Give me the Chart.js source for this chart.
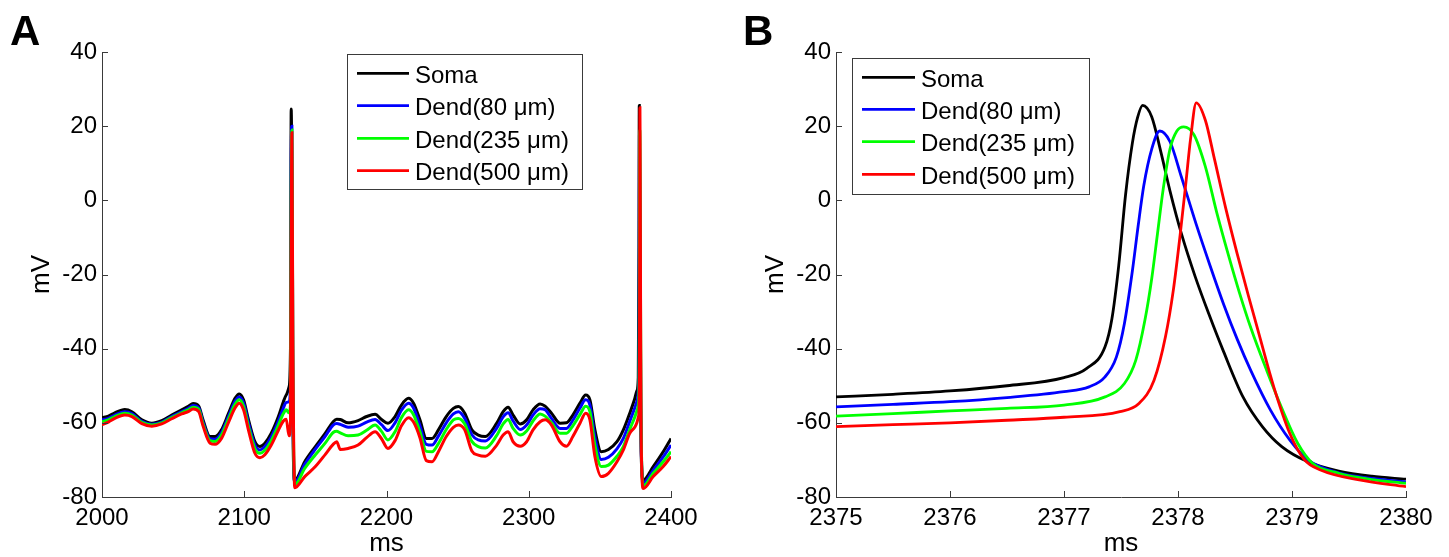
<!DOCTYPE html>
<html><head><meta charset="utf-8">
<script src="https://cdn.jsdelivr.net/npm/chart.js@4.4.1/dist/chart.umd.min.js"></script>
<style>
html,body{margin:0;padding:0;background:#fff;}
#wrap{position:relative;width:1449px;height:557px;overflow:hidden;background:#fff;}
#ca{position:absolute;left:0;top:0;}
#cb{position:absolute;left:720px;top:0;}
</style></head><body>
<div id="wrap"><canvas id="ca" width="720" height="557"></canvas><canvas id="cb" width="729" height="557"></canvas></div>
<script>
// ---------- data ----------
const seriesNames = ['Soma', 'Dend(80 \u03bcm)', 'Dend(235 \u03bcm)', 'Dend(500 \u03bcm)'];
const seriesColors = ['#000000', '#0000ff', '#00ff00', '#ff0000'];
const yTicks = [-80, -60, -40, -20, 0, 20, 40];
const aXTicks = [2000, 2100, 2200, 2300, 2400];
const bXTicks = [2375, 2376, 2377, 2378, 2379, 2380];

// Panel A (ms)
const aTime = [2000, 2004.5, 2009, 2016, 2021, 2028, 2035, 2042, 2049, 2056,
  2061, 2064, 2068, 2071, 2076, 2079.5, 2084, 2089, 2093.5, 2096.5,
  2099.5, 2103, 2107.5, 2111, 2114.5, 2119, 2124, 2127.5, 2129.5, 2131.5,
  2132.5, 2133, 2133.5, 2134.2, 2135.5, 2142.5, 2150, 2157, 2162.5, 2165,
  2167.5, 2173, 2180, 2186, 2192, 2196.5, 2201, 2206, 2210.5, 2215.5,
  2219, 2223.5, 2228, 2232, 2236.5, 2242, 2247, 2250.5, 2255, 2260,
  2264.5, 2269.5, 2277.5, 2282, 2285.5, 2289, 2294, 2298.5, 2303, 2308,
  2311.5, 2316, 2322, 2326.5, 2331, 2336, 2340, 2343, 2346.5, 2351,
  2356, 2362, 2366.5, 2371, 2374.5, 2376, 2377, 2377.5, 2377.7, 2377.85,
  2378, 2378.15, 2378.3, 2378.6, 2379, 2380.5, 2387.5, 2394.5, 2400];
const aSoma = [-58.6, -58.2, -57.3, -56.4, -57.0, -59.2, -60.1, -59.4, -57.9, -56.5,
  -55.5, -54.8, -55.5, -59.2, -63.7, -63.7, -61.9, -57.4, -53.4, -52.2,
  -53.8, -59.2, -65.1, -66.4, -65.5, -62.8, -58.3, -54.3, -52.5, -50.3,
  -40, 24.6, 5, -60, -75.5, -70.5, -66.4, -62.8, -59.7, -59.0,
  -59.1, -60.0, -59.4, -58.3, -57.7, -59.1, -60.1, -58.3, -55.2, -53.4,
  -54.7, -59.2, -64.2, -64.2, -61.9, -58.3, -56.1, -55.6, -57.4, -61.9,
  -63.3, -63.7, -60.1, -57.0, -55.8, -57.9, -60.3, -59.2, -56.5, -54.9,
  -55.5, -57.4, -60.1, -60.0, -57.9, -54.7, -52.5, -53.8, -61.9, -67.8,
  -67.2, -65.1, -61.9, -57.4, -53.5, -51.4, -47.8, -12, 25.6, 13,
  -5.5, -20.5, -33, -54.5, -67.9, -75.4, -71.8, -67.8, -64.2];
const aDend80 = [-59.2, -58.8, -57.9, -57.0, -57.5, -59.6, -60.4, -59.8, -58.3, -57.0,
  -56.0, -55.3, -56.0, -59.8, -64.3, -64.4, -62.6, -58.2, -54.2, -53.0,
  -54.6, -60.0, -66.0, -67.3, -66.4, -63.8, -59.5, -56.0, -54.5, -54.3,
  -50, 10, 20, -50, -76.0, -71.2, -67.1, -63.6, -60.6, -60.2,
  -60.4, -61.2, -60.9, -59.8, -59.1, -60.5, -62.1, -60.0, -56.6, -54.7,
  -56.0, -60.8, -65.8, -66.0, -63.6, -60.0, -57.6, -57.0, -58.8, -63.2,
  -64.6, -64.9, -61.4, -58.4, -57.3, -59.5, -61.8, -60.6, -57.9, -56.2,
  -56.5, -58.8, -61.5, -61.5, -59.3, -56.0, -53.8, -55.2, -63.8, -69.9,
  -69.3, -67.0, -64.2, -59.6, -56.0, -54.3, -51.6, -37, 0, 18.5,
  9, -5, -19.5, -42.5, -65, -76.2, -72.8, -69.2, -66.0];
const aDend235 = [-59.7, -59.2, -58.3, -57.4, -57.9, -59.9, -60.6, -60.0, -58.6, -57.3,
  -56.4, -55.8, -56.4, -60.3, -64.8, -65.0, -63.3, -58.9, -55.0, -53.8,
  -55.5, -61.0, -67.0, -68.2, -67.4, -64.8, -60.6, -57.5, -56.5, -57.3,
  -55, 0, 19, -45, -76.7, -72.3, -68.6, -65.4, -62.6, -62.3,
  -62.7, -63.5, -63.3, -62.0, -60.6, -62.3, -64.6, -62.4, -58.6, -56.5,
  -57.8, -62.4, -67.7, -67.8, -65.6, -61.8, -59.2, -58.8, -60.3, -65.0,
  -66.4, -66.8, -63.4, -60.3, -59.1, -61.5, -63.3, -62.2, -59.5, -57.6,
  -58.2, -60.0, -62.8, -62.8, -60.8, -57.8, -55.5, -57.0, -66.0, -71.8,
  -71.4, -69.0, -66.4, -61.8, -58.5, -56.8, -55.2, -50, -33, -1,
  19, 17.5, 1.6, -30, -62, -77.0, -73.6, -70.5, -67.8];
const aDend500 = [-60.5, -59.8, -58.8, -57.9, -58.3, -60.2, -60.9, -60.3, -58.9, -57.6,
  -56.9, -56.3, -57.0, -60.8, -65.5, -65.8, -64.2, -59.8, -56.0, -54.7,
  -56.5, -62.0, -68.2, -69.4, -68.6, -66.0, -62.0, -59.5, -59.0, -63.5,
  -60, -10, 18.2, -40, -77.5, -74.5, -71.8, -68.5, -65.8, -65.1,
  -67.2, -66.9, -66.0, -64.0, -62.4, -64.3, -66.9, -64.8, -60.8, -58.6,
  -59.8, -64.0, -70.2, -70.5, -67.8, -63.7, -61.2, -60.6, -61.9, -67.6,
  -68.7, -69.0, -66.0, -63.3, -62.4, -65.1, -66.3, -65.1, -61.9, -59.7,
  -59.2, -60.6, -65.1, -66.3, -63.7, -60.1, -57.4, -59.2, -69.1, -74.5,
  -73.6, -70.5, -67.3, -62.8, -61.2, -60.0, -58.5, -57, -53, -41.5,
  -15, 25, 13.7, -26.6, -63.5, -77.7, -74.5, -71.8, -69.1];

// Panel B (ms, mV)
const bSomaT = [2375, 2375.5, 2376, 2376.5, 2377, 2377.2, 2377.36, 2377.42, 2377.48, 2377.54, 2377.6, 2377.645, 2377.69, 2377.77, 2377.85, 2377.93, 2378.03, 2378.15, 2378.27, 2378.4, 2378.57, 2378.74, 2378.91, 2379.14, 2379.41, 2379.7, 2380];
const bSomaV = [-53.0, -52.3, -51.4, -50.0, -47.8, -45.3, -39.5, -32, -17.6, 1.5, 15.5, 22.3, 25.6, 22.5, 13, 2.5, -9, -20.5, -30.6, -40.8, -53, -61, -66.4, -70.5, -73, -74.4, -75.2];
const bDend80T = [2375, 2375.5, 2376, 2376.5, 2377, 2377.22, 2377.36, 2377.46, 2377.53, 2377.6, 2377.65, 2377.7, 2377.77, 2377.84, 2377.93, 2378.03, 2378.16, 2378.28, 2378.4, 2378.52, 2378.64, 2378.81, 2378.98, 2379.14, 2379.41, 2379.7, 2380];
const bDend80V = [-55.7, -55.0, -54.3, -53.2, -51.6, -50.3, -47.6, -42.2, -33.2, -19, -7, 4, 13.9, 18.7, 15.8, 6.3, -6.5, -17.5, -28, -37.5, -46, -56.5, -64.6, -70, -73.5, -75, -75.9];
const bDend235T = [2375, 2375.5, 2376, 2376.5, 2377, 2377.36, 2377.53, 2377.63, 2377.71, 2377.77, 2377.82, 2377.87, 2377.93, 2377.99, 2378.05, 2378.14, 2378.24, 2378.34, 2378.44, 2378.54, 2378.64, 2378.78, 2378.91, 2379.05, 2379.18, 2379.41, 2379.7, 2380];
const bDend235V = [-58.2, -57.5, -56.8, -56.1, -55.2, -53, -49.4, -43.1, -32.3, -21, -9, 3, 13.9, 18.7, 19.8, 17.7, 9.1, -3.3, -14.5, -25, -34.5, -46, -56, -65.5, -70.9, -73.6, -75.3, -76.3];
const bDend500T = [2375, 2375.5, 2376, 2376.5, 2377, 2377.49, 2377.66, 2377.79, 2377.89, 2377.96, 2378.02, 2378.07, 2378.11, 2378.16, 2378.24, 2378.32, 2378.42, 2378.52, 2378.62, 2378.71, 2378.84, 2378.98, 2379.11, 2379.25, 2379.59, 2380];
const bDend500V = [-61.0, -60.5, -60.0, -59.3, -58.5, -57, -54.7, -48.5, -36.8, -24, -9, 5, 16.5, 26.3, 21.6, 11.1, -2.3, -14.5, -26, -36, -50.3, -62.8, -70, -72.7, -75.4, -77.2];

// ---------- helpers ----------
const FONT = "'Liberation Sans', Arial, Helvetica, sans-serif";
const AXIS_COLOR = '#3a3a3a';
const zip = (t, v) => t.map((x, i) => ({x: x, y: v[i]}));

const inTicks = {
  id: 'inTicks',
  afterDraw(chart) {
    const {ctx, chartArea: a, scales: {x, y}} = chart;
    ctx.save();
    ctx.strokeStyle = AXIS_COLOR; ctx.lineWidth = 1;
    ctx.beginPath();
    x.ticks.forEach(t => { const p = Math.round(x.getPixelForValue(t.value)) + 0.5; ctx.moveTo(p, a.bottom); ctx.lineTo(p, a.bottom - 6); });
    y.ticks.forEach(t => { const p = Math.round(y.getPixelForValue(t.value)) + 0.5; ctx.moveTo(a.left, p); ctx.lineTo(a.left + 6, p); });
    ctx.stroke();
    ctx.restore();
  }
};

const boxLegend = {
  id: 'boxLegend',
  afterDraw(chart, args, o) {
    const ctx = chart.ctx;
    ctx.save();
    ctx.fillStyle = '#fff';
    ctx.fillRect(o.x0, o.y0, o.x1 - o.x0, o.y1 - o.y0);
    ctx.strokeStyle = AXIS_COLOR; ctx.lineWidth = 1;
    ctx.strokeRect(o.x0 + 0.5, o.y0 + 0.5, o.x1 - o.x0, o.y1 - o.y0);
    ctx.font = '24px ' + FONT;
    ctx.textBaseline = 'alphabetic';
    chart.data.datasets.forEach((ds, i) => {
      const y = o.rows[i];
      ctx.strokeStyle = ds.borderColor; ctx.lineWidth = 2.7;
      ctx.beginPath(); ctx.moveTo(o.lx0, y); ctx.lineTo(o.lx1, y); ctx.stroke();
      ctx.fillStyle = '#000';
      ctx.fillText(ds.label, o.tx, y + 9.5);
    });
    ctx.restore();
  }
};

const panelLetter = {
  id: 'panelLetter',
  afterDraw(chart, args, o) {
    const ctx = chart.ctx;
    ctx.save();
    ctx.font = 'bold 42px ' + FONT;
    ctx.fillStyle = '#000';
    ctx.textBaseline = 'alphabetic';
    ctx.fillText(o.text, o.x, o.y);
    ctx.restore();
  }
};

function makePanel(canvasId, sets, xMin, xMax, xTicks, yWidth, padRight, yTitleOffset, legend, letter, lw) {
  const datasets = sets.map((d, i) => ({
    label: seriesNames[i],
    data: d,
    borderColor: seriesColors[i],
    backgroundColor: seriesColors[i],
    borderWidth: lw,
    pointRadius: 0,
    fill: false,
    cubicInterpolationMode: 'monotone',
    order: sets.length - i
  }));
  return new Chart(document.getElementById(canvasId), {
    type: 'line',
    data: {datasets},
    options: {
      responsive: false,
      animation: false,
      events: [],
      layout: {padding: {left: 0, top: 52, right: padRight, bottom: 0}},
      plugins: {
        legend: {display: false},
        tooltip: {enabled: false},
        boxLegend: legend,
        panelLetter: letter
      },
      scales: {
        x: {
          type: 'linear', min: xMin, max: xMax,
          afterBuildTicks: s => { s.ticks = xTicks.map(v => ({value: v})); },
          afterFit: s => { s.height = 60; },
          ticks: {autoSkip: false, maxRotation: 0, padding: 7, color: '#000',
            font: {family: FONT, size: 24}, callback: v => String(v)},
          grid: {display: true, drawOnChartArea: false, drawTicks: false},
          border: {display: true, color: AXIS_COLOR, width: 1},
          title: {display: true, text: 'ms', color: '#000', font: {family: FONT, size: 26, lineHeight: 1}, padding: {top: 0, bottom: 0}}
        },
        y: {
          type: 'linear', min: -80, max: 40,
          afterBuildTicks: s => { s.ticks = yTicks.map(v => ({value: v})); },
          afterFit: s => { s.width = yWidth; },
          ticks: {autoSkip: false, padding: 5, color: '#000',
            font: {family: FONT, size: 24}, callback: v => String(v)},
          grid: {display: true, drawOnChartArea: false, drawTicks: false},
          border: {display: true, color: AXIS_COLOR, width: 1},
          title: {display: true, text: 'mV', color: '#000', font: {family: FONT, size: 26, lineHeight: 1}, padding: {top: yTitleOffset - 13, bottom: 0}}
        }
      }
    },
    plugins: [inTicks, boxLegend, panelLetter]
  });
}

makePanel('ca',
  [zip(aTime, aSoma), zip(aTime, aDend80), zip(aTime, aDend235), zip(aTime, aDend500)],
  2000, 2400, aXTicks, 102, 49, 42,
  {x0: 347, y0: 54, x1: 582, y1: 189, lx0: 357, lx1: 409, tx: 415, rows: [73.3, 105.7, 138.3, 170.7]},
  {text: 'A', x: 10, y: 45}, 3);

makePanel('cb',
  [zip(bSomaT, bSomaV), zip(bDend80T, bDend80V), zip(bDend235T, bDend235V), zip(bDend500T, bDend500V)],
  2375, 2380, bXTicks, 116, 43, 56,
  {x0: 132, y0: 58, x1: 369, y1: 194, lx0: 142, lx1: 195, tx: 201, rows: [77.3, 109.3, 141.7, 174.3]},
  {text: 'B', x: 23, y: 45}, 2.8);
</script>
</body></html>
